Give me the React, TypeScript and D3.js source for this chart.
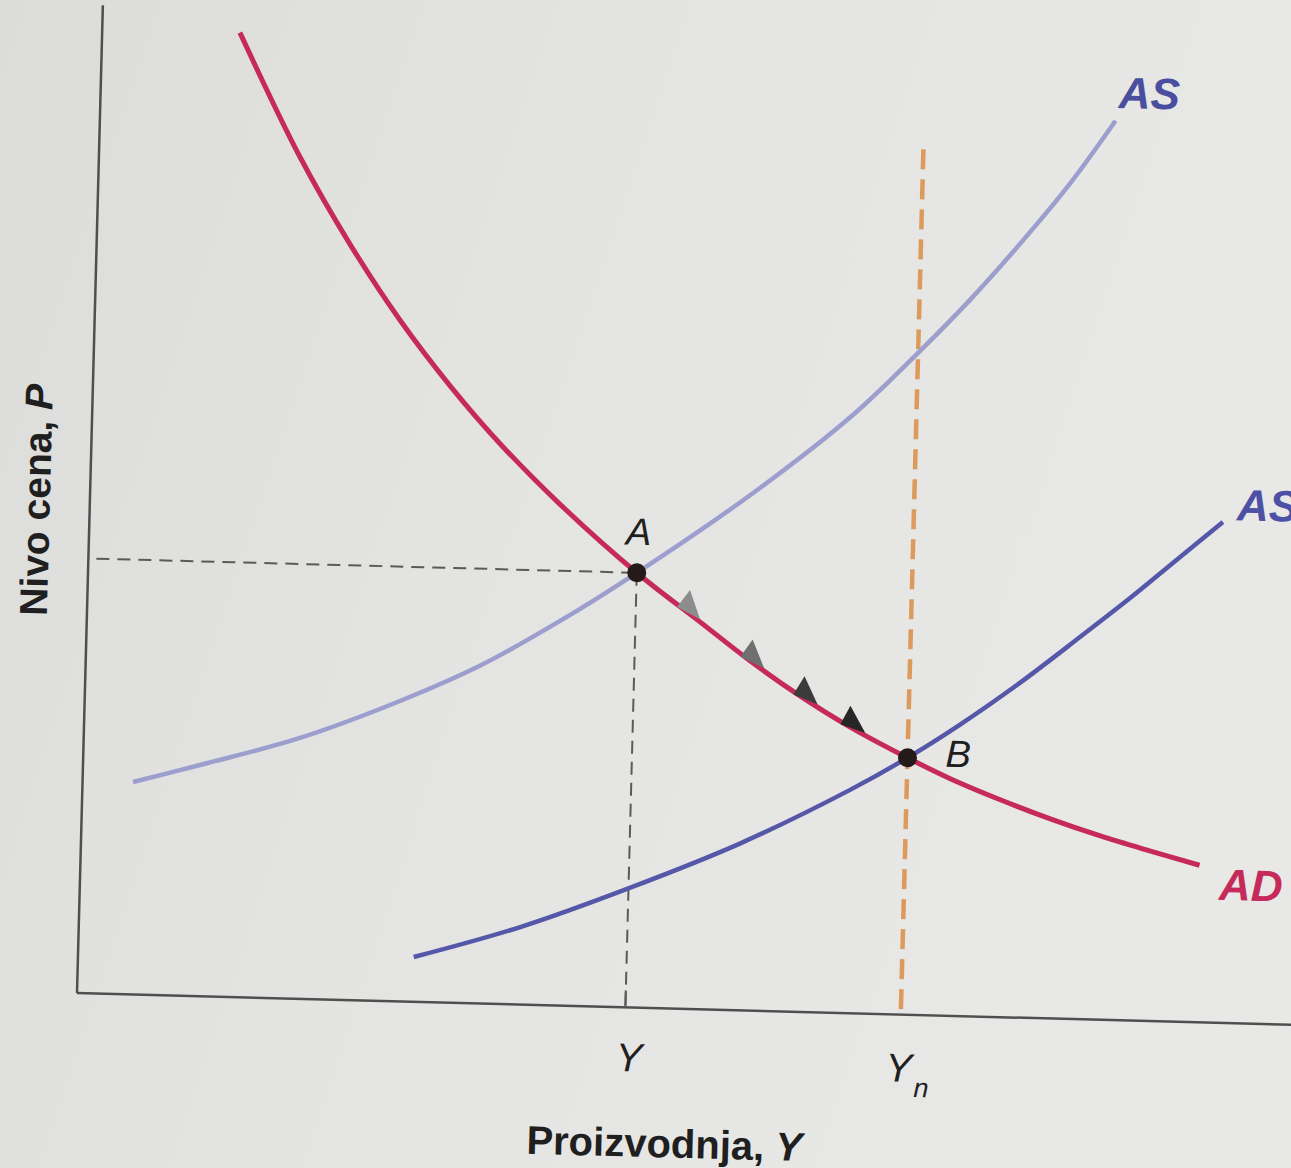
import React from "react";
import * as d3 from "d3";

// ---- data (output Y, price level P), in chart units 0..100 ----
const adY = [11.45, 16.7, 21.05, 25.4, 29.7, 33.96, 39.1, 45.6, 50.96, 55.2, 59.4, 63.6, 68.5, 72.1, 76.3, 80.5, 84.7, 88.9, 93.0];
const adP = [97.6, 85.2, 76.5, 68.9, 62.4, 56.7, 50.7, 44.0, 39.2, 35.4, 32.0, 29.0, 26.0, 24.0, 22.0, 20.2, 18.6, 17.2, 15.9];

const as1Y = [4.2, 9.73, 17.98, 26.2, 32.8, 39.3, 45.6, 54.9, 63.0, 68.5, 72.7, 76.8, 80.8, 84.4];
const as1P = [21.5, 23.4, 26.4, 30.4, 34.2, 38.9, 44.0, 52.2, 60.3, 67.0, 72.5, 78.4, 84.6, 91.0];

const as2Y = [27.9, 36.7, 45.7, 54.8, 63.8, 68.5, 72.8, 77.7, 82.6, 86.7, 90.3, 94.2];
const as2P = [4.53, 7.85, 12.1, 16.9, 22.6, 26.0, 29.5, 33.9, 38.7, 42.8, 46.6, 50.7];

const pointA = { y: 45.6, p: 44.0, label: "A" };
const pointB = { y: 68.5, p: 26.0, label: "B" };
const yNatural = 68.5;
const yNaturalTop = 87.6;
const arrowY = [50.0, 55.4, 59.9, 63.9];
const arrowColors = ["#8d8d8d", "#6f6f6f", "#3b3b3b", "#262626"];

const W = 1291;
const H = 1168;
const FONT = "'Liberation Sans', Arial, Helvetica, sans-serif";

const x = d3.scaleLinear().domain([0, 100]).range([0, 1203]);
const yS = d3.scaleLinear().domain([0, 100]).range([0, -988]);

const line = d3
  .line<[number, number]>()
  .x((d) => x(d[0]))
  .y((d) => yS(d[1]))
  .curve(d3.curveCatmullRom.alpha(0.5));

const zip = (a: number[], b: number[]) => a.map((v, i) => [v, b[i]] as [number, number]);

function arrowPath(yv: number) {
  const pts = zip(adY, adP);
  let i = 0;
  while (i < pts.length - 2 && pts[i + 1][0] < yv) i++;
  const [y0, p0] = pts[i];
  const [y1, p1] = pts[i + 1];
  const t = (yv - y0) / (y1 - y0);
  const pv = p0 + t * (p1 - p0);
  const cx = x(yv);
  const cy = yS(pv);
  let dx = x(y1) - x(y0);
  let dy = yS(p1) - yS(p0);
  const len = Math.hypot(dx, dy);
  dx /= len;
  dy /= len;
  const nx = dy;
  const ny = -dx;
  const L = 13;
  const B = 17;
  const off = 2;
  const ox = cx + nx * off;
  const oy = cy + ny * off;
  const tip = [ox + dx * L, oy + dy * L];
  const b1 = [ox - dx * L + nx * B, oy - dy * L + ny * B];
  const b2 = [ox - dx * L - nx * B * 0.25, oy - dy * L - ny * B * 0.25];
  return `M${tip[0]},${tip[1]}L${b1[0]},${b1[1]}L${b2[0]},${b2[1]}Z`;
}

export default function App() {
  return (
    <svg
      width={W}
      height={H}
      viewBox={`0 0 ${W} ${H}`}
      style={{ position: "absolute", left: 0, top: 0, display: "block" }}
    >
      <defs>
        <linearGradient id="paper" x1="0" y1="0" x2="1" y2="0.3">
          <stop offset="0" stopColor="#dcdcda" />
          <stop offset="0.5" stopColor="#e4e4e2" />
          <stop offset="1" stopColor="#e8e8e6" />
        </linearGradient>
      </defs>
      <rect x={0} y={0} width={W} height={H} fill="url(#paper)" />

      <g transform="translate(77,993) rotate(1.5)">
        {/* axes */}
        <line x1={0} y1={0} x2={0} y2={yS(100)} stroke="#4f4f4f" strokeWidth={2.5} />
        <line x1={0} y1={0} x2={x(101)} y2={0} stroke="#4f4f4f" strokeWidth={2.5} />

        {/* dashed guides to A */}
        <line
          x1={8}
          y1={yS(pointA.p)}
          x2={x(pointA.y)}
          y2={yS(pointA.p)}
          stroke="#5a5a5a"
          strokeWidth={2}
          strokeDasharray="13 8"
        />
        <line
          x1={x(pointA.y)}
          y1={yS(pointA.p)}
          x2={x(pointA.y)}
          y2={0}
          stroke="#5a5a5a"
          strokeWidth={2}
          strokeDasharray="13 8"
        />
        <line x1={x(pointA.y)} y1={0} x2={x(pointA.y)} y2={-17} stroke="#5a5a5a" strokeWidth={2} />

        {/* natural output line */}
        <line
          x1={x(yNatural)}
          y1={yS(yNaturalTop)}
          x2={x(yNatural)}
          y2={0}
          stroke="#dc9a5c"
          strokeWidth={4.5}
          strokeDasharray="20 10"
        />

        {/* curves */}
        <path d={line(zip(as1Y, as1P)) || ""} fill="none" stroke="#9c9ece" strokeWidth={4.5} strokeLinecap="butt" />
        <path d={line(zip(as2Y, as2P)) || ""} fill="none" stroke="#5558a8" strokeWidth={4.5} strokeLinecap="butt" />
        <path d={line(zip(adY, adP)) || ""} fill="none" stroke="#c62a5b" strokeWidth={5} strokeLinecap="butt" />

        {/* arrows along AD */}
        {arrowY.map((v, i) => (
          <path key={i} d={arrowPath(v)} fill={arrowColors[i]} />
        ))}

        {/* equilibrium points */}
        {[pointA, pointB].map((pt) => (
          <circle key={pt.label} cx={x(pt.y)} cy={yS(pt.p)} r={9.5} fill="#251a1a" />
        ))}
        <text
          x={x(pointA.y) + 1}
          y={yS(pointA.p) - 28}
          fontFamily={FONT}
          fontSize={38}
          fontStyle="italic"
          textAnchor="middle"
          fill="#1f1f1f"
        >
          {pointA.label}
        </text>
        <text
          x={x(pointB.y) + 38}
          y={yS(pointB.p) + 8}
          fontFamily={FONT}
          fontSize={38}
          fontStyle="italic"
          fill="#1f1f1f"
        >
          {pointB.label}
        </text>

        {/* curve labels */}
        <text x={1018} y={-912} fontFamily={FONT} fontSize={44} fontWeight="bold" fontStyle="italic" fill="#4a4e9e">
          AS
        </text>
        <text x={1147} y={-503} fontFamily={FONT} fontSize={44} fontWeight="bold" fontStyle="italic" fill="#4d51a6">
          AS
        </text>
        <text x={1139} y={-123} fontFamily={FONT} fontSize={44} fontWeight="bold" fontStyle="italic" fill="#c62a5b">
          AD
        </text>

        {/* x tick labels */}
        <text
          x={x(pointA.y) + 5}
          y={64}
          fontFamily={FONT}
          fontSize={40}
          fontStyle="italic"
          textAnchor="middle"
          fill="#1f1f1f"
        >
          Y
        </text>
        <text x={x(yNatural) - 14} y={67} fontFamily={FONT} fontSize={40} fontStyle="italic" fill="#1f1f1f">
          Y
          <tspan fontSize={27} dx={2} dy={15}>
            n
          </tspan>
        </text>

        {/* axis titles */}
        <text
          x={591}
          y={149}
          fontFamily={FONT}
          fontSize={40}
          fontWeight="bold"
          textAnchor="middle"
          fill="#1f1f1f"
        >
          Proizvodnja, <tspan fontStyle="italic">Y</tspan>
        </text>
        <text
          transform="translate(-40,-492) rotate(-90)"
          fontFamily={FONT}
          fontSize={39}
          fontWeight="bold"
          textAnchor="middle"
          fill="#1f1f1f"
        >
          Nivo cena, <tspan fontStyle="italic">P</tspan>
        </text>
      </g>
    </svg>
  );
}
